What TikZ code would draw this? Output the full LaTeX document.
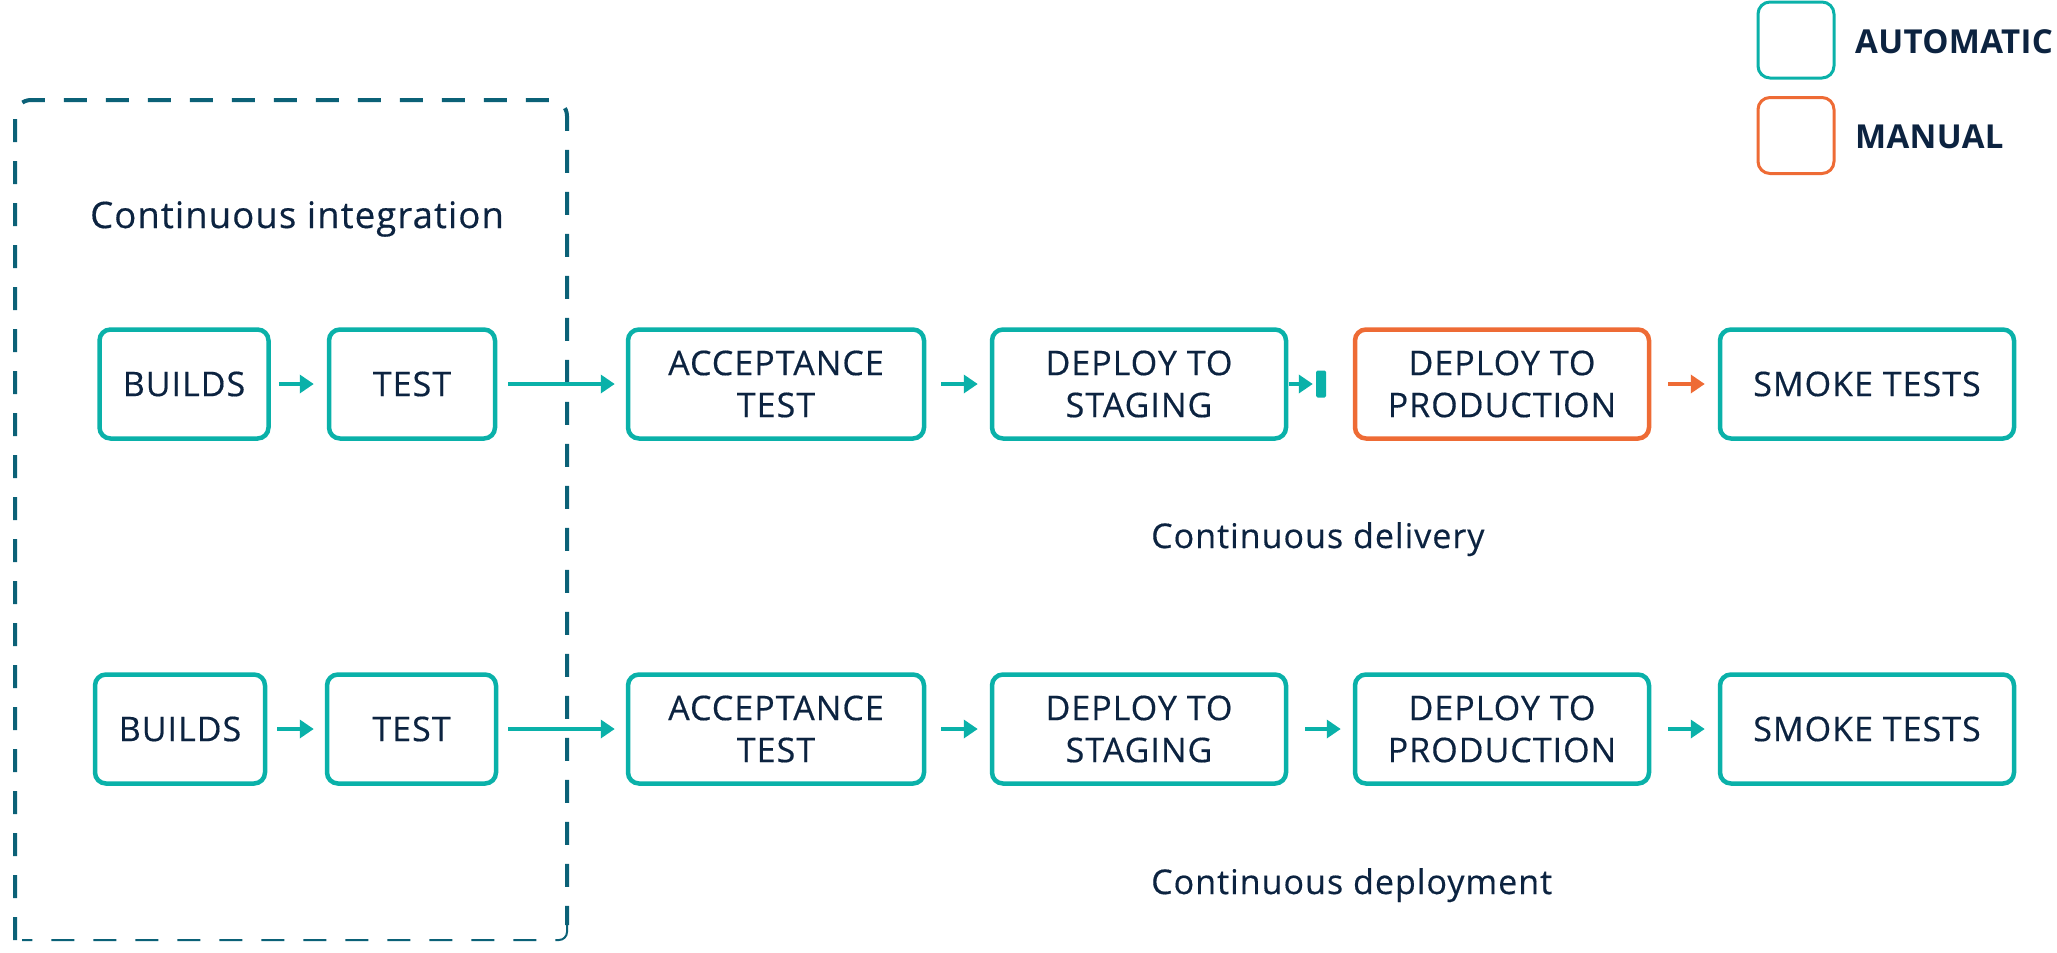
\documentclass[tikz,border=0pt]{standalone}
\usepackage{fontspec}
\setmainfont{Open Sans}
\newfontfamily\medfont[FakeBold=0.4,LetterSpace=3]{Open Sans}
\usetikzlibrary{arrows.meta}
\definecolor{tealc}{HTML}{0AB1A9}
\definecolor{orangec}{HTML}{EE6B35}
\definecolor{navyc}{HTML}{0C2340}
\definecolor{dashc}{HTML}{0B6177}
\begin{document}
\begin{tikzpicture}[x=1pt,y=-1pt,
  box/.style={draw=tealc, line width=4.5pt, rounded corners=11pt, minimum height=109pt,
    align=center, font=\medfont\fontsize{34}{42}\selectfont, text=navyc, inner sep=0pt},
  arr/.style={-{Triangle[length=14pt,width=18pt]}, line width=3.5pt, draw=tealc},
  oarr/.style={arr, draw=orangec},
  lbl/.style={font=\medfont\fontsize{34}{40}\selectfont, text=navyc, inner sep=0pt, anchor=base west},
  legbox/.style={line width=3pt, rounded corners=12pt, minimum width=76pt, minimum height=76pt, inner sep=0pt},
  legtxt/.style={font=\bfseries\fontsize{33}{38}\selectfont\addfontfeatures{LetterSpace=1}, text=navyc, inner sep=0pt, anchor=base west},
  cibox/.style={draw=dashc, line width=4pt, dash pattern=on 23pt off 19pt, rounded corners=16pt}]
\useasboundingbox (0,0) rectangle (2057,953);

% CI dashed frame
\draw[cibox] (15,940) -- (15,100) -- (567,100) -- (567,925);
\draw[cibox, line width=2pt, rounded corners=8pt] (567,925) -- (567,940) -- (22,940);

\node[lbl, font=\medfont\fontsize{36.5}{42}\selectfont] (ci) at (90,228) {Continuous integration};

% Row 1
\node[box, minimum width=169pt] (b1) at (184,384) {BUILDS};
\node[box, minimum width=166pt] (t1) at (412,384) {TEST};
\node[box, minimum width=296pt] (a1) at (776,384) {ACCEPTANCE\\TEST};
\node[box, minimum width=294pt] (s1) at (1139,384) {DEPLOY TO\\STAGING};
\node[box, draw=orangec, minimum width=294pt] (p1) at (1502,384) {DEPLOY TO\\PRODUCTION};
\node[box, minimum width=294pt] (k1) at (1867,384) {SMOKE TESTS};
\node[fill=tealc, minimum width=10pt, minimum height=27pt, inner sep=0pt, rounded corners=1.5pt] (bar) at (1321,384) {};

\draw[arr] ([xshift=8pt]b1.east) -- ([xshift=-13pt]t1.west);
\draw[arr] ([xshift=11pt]t1.east) -- ([xshift=-11pt]a1.west);
\draw[arr] ([xshift=15pt]a1.east) -- ([xshift=-12pt]s1.west);
\draw[arr] ([xshift=1pt]s1.east) -- ([xshift=-3pt]bar.west);
\draw[oarr] ([xshift=17pt]p1.east) -- ([xshift=-13pt]k1.west);

\node[lbl] (cd) at (1151,548) {Continuous delivery};

% Row 2
\node[box, minimum width=170pt] (b2) at (180,729) {BUILDS};
\node[box, minimum width=169pt] (t2) at (411.5,729) {TEST};
\node[box, minimum width=296pt] (a2) at (776,729) {ACCEPTANCE\\TEST};
\node[box, minimum width=294pt] (s2) at (1139,729) {DEPLOY TO\\STAGING};
\node[box, minimum width=294pt] (p2) at (1502,729) {DEPLOY TO\\PRODUCTION};
\node[box, minimum width=294pt] (k2) at (1867,729) {SMOKE TESTS};

\draw[arr] ([xshift=10pt]b2.east) -- ([xshift=-11pt]t2.west);
\draw[arr] ([xshift=10pt]t2.east) -- ([xshift=-11pt]a2.west);
\draw[arr] ([xshift=15pt]a2.east) -- ([xshift=-12pt]s2.west);
\draw[arr] ([xshift=17pt]s2.east) -- ([xshift=-12pt]p2.west);
\draw[arr] ([xshift=17pt]p2.east) -- ([xshift=-13pt]k2.west);

\node[lbl] (cdp) at (1151,894) {Continuous deployment};

% Legend
\node[legbox, draw=tealc] (la) at (1796,40) {};
\node[legbox, draw=orangec] (lm) at (1796,135.5) {};
\node[legtxt] (lat) at (1855,53) {AUTOMATIC};
\node[legtxt] (lmt) at (1855,148) {MANUAL};
\end{tikzpicture}
\end{document}
